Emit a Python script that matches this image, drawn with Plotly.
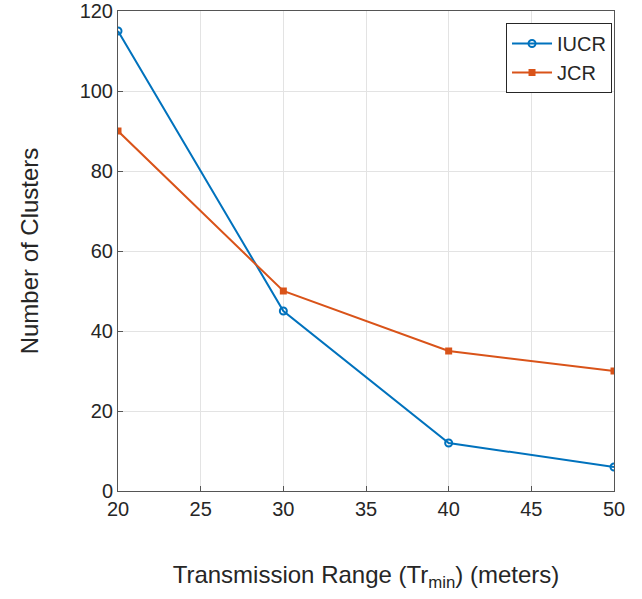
import plotly.graph_objects as go

x_vals = [20, 30, 40, 50]
iucr = [115, 45, 12, 6]
jcr = [90, 50, 35, 30]
x_ticks = [20, 25, 30, 35, 40, 45, 50]
y_ticks = [0, 20, 40, 60, 80, 100, 120]

FONT = "Liberation Sans, Arial"

fig = go.Figure()
fig.add_trace(go.Scatter(x=x_vals, y=iucr, name="IUCR", mode="lines+markers",
                         line=dict(color="#0072BD", width=2),
                         marker=dict(symbol="circle-open", size=7, color="#0072BD", line=dict(width=2))))
fig.add_trace(go.Scatter(x=x_vals, y=jcr, name="JCR", mode="lines+markers",
                         line=dict(color="#D95319", width=2),
                         marker=dict(symbol="square", size=7, color="#D95319")))

axis_common = dict(showgrid=True, gridcolor="#e3e3e3", gridwidth=1, showline=True, linecolor="#555555",
                   linewidth=1, mirror=True, ticks="inside", ticklen=5, tickcolor="#555555",
                   zeroline=False, automargin=False,
                   tickfont=dict(size=20, color="#262626", family=FONT))

fig.update_xaxes(range=[20, 50], tickvals=x_ticks, **axis_common,
                 title=dict(text="Transmission Range (Tr<sub>min</sub>) (meters)",
                            font=dict(size=24, color="#262626", family=FONT), standoff=47))
fig.update_yaxes(range=[0, 120], tickvals=y_ticks, **axis_common,
                 title=dict(text="Number of Clusters",
                            font=dict(size=24, color="#262626", family=FONT), standoff=34))

fig.update_layout(width=642, height=599, plot_bgcolor="white", paper_bgcolor="white",
                  margin=dict(l=118, r=28, t=11, b=108),
                  legend=dict(x=0.996, y=0.975, xanchor="right", yanchor="top", bgcolor="white",
                              bordercolor="#262626", borderwidth=1, itemwidth=40,
                              font=dict(size=20, color="#262626", family=FONT),
                              tracegroupgap=0))
fig.write_html("out.html", config={"displayModeBar": False},
               post_script="document.body.style.margin='0';document.body.style.overflow='hidden';")
